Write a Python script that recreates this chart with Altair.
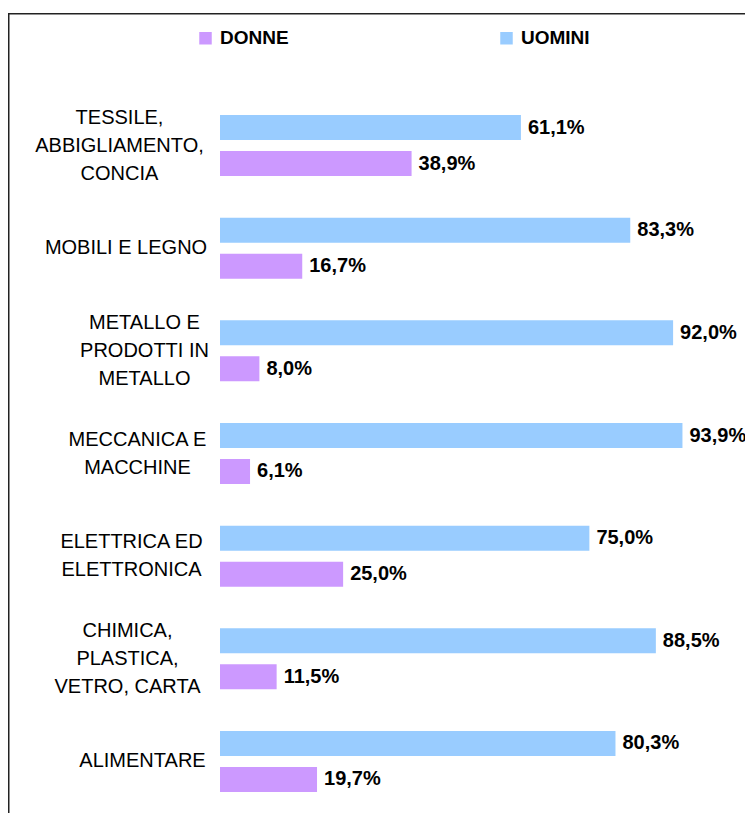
import altair as alt
import pandas as pd

categories = [
    "TESSILE,\nABBIGLIAMENTO,\nCONCIA",
    "MOBILI E LEGNO",
    "METALLO E\nPRODOTTI IN\nMETALLO",
    "MECCANICA E\nMACCHINE",
    "ELETTRICA ED\nELETTRONICA",
    "CHIMICA,\nPLASTICA,\nVETRO, CARTA",
    "ALIMENTARE",
]
uomini = [61.1, 83.3, 92.0, 93.9, 75.0, 88.5, 80.3]
donne = [38.9, 16.7, 8.0, 6.1, 25.0, 11.5, 19.7]
series = ["DONNE", "UOMINI"]
colors = ["#CC99FF", "#99CCFF"]

rows = []
for c, u, d in zip(categories, uomini, donne):
    rows.append({"cat": c, "sesso": "UOMINI", "val": u})
    rows.append({"cat": c, "sesso": "DONNE", "val": d})
df = pd.DataFrame(rows)

FONT = "Liberation Sans, Arial, sans-serif"
W, H = 737, 800
AXIS_X = 200
LINE_H = 28

# horizontal centre (page px) of each label block
label_centres = [("TESSILE", 119), ("MOBILI", 125.5), ("METALLO", 144),
                 ("MECCANICA", 137), ("ELETTRICA", 131), ("CHIMICA", 127),
                 ("ALIMENTARE", 142)]
pad_conds = [{"test": f"indexof(datum.value, '{k}') == 0", "value": AXIS_X - (c - 8)}
             for k, c in label_centres]
off_conds = [
    {"test": "length(split(datum.value, '\\n')) == 3", "value": -LINE_H},
    {"test": "length(split(datum.value, '\\n')) == 2", "value": -LINE_H / 2},
]

y_enc = alt.Y(
    "cat:N", sort=categories,
    scale=alt.Scale(domain=categories, range=[81.17, 799.83], paddingInner=0, paddingOuter=0),
    axis=alt.Axis(title=None, domain=False, ticks=False, tickSize=0, grid=False,
                  offset=-AXIS_X, labelAlign="center", labelBaseline="middle",
                  labelFont=FONT, labelFontSize=20, labelColor="black",
                  labelLineHeight=LINE_H, labelLimit=0,
                  labelExpr="split(datum.label, '\\n')",
                  labelPadding={"condition": pad_conds, "value": 80},
                  labelOffset={"condition": off_conds, "value": 0}),
)
yoff = alt.YOffset("sesso:N", sort=["UOMINI", "DONNE"],
                   scale=alt.Scale(domain=["UOMINI", "DONNE"], paddingInner=0.30556, paddingOuter=0.5787))
x_enc = alt.X("val:Q", scale=alt.Scale(domain=[0, 100], range=[212, 704.5]), axis=None)

base = alt.Chart(df)

bars = base.mark_bar().encode(
    x=x_enc, y=y_enc, yOffset=yoff,
    color=alt.Color("sesso:N", scale=alt.Scale(domain=series, range=colors),
                    legend=alt.Legend(title=None, orient="none", legendX=188, legendY=15.5,
                                      direction="horizontal", symbolType="square",
                                      symbolSize=156, symbolStrokeWidth=0, symbolOpacity=1,
                                      labelFont=FONT, labelFontSize=19, labelFontWeight="bold",
                                      labelColor="black", labelOffset=5, columnPadding=208,
                                      padding=0)),
)

texts = base.transform_calculate(
    lbl="replace(format(datum.val, '.1f'), '.', ',') + '%'"
).mark_text(align="left", baseline="middle", dx=7, font=FONT, fontSize=20,
            fontWeight="bold", color="black").encode(
    x=x_enc,
    y=y_enc,
    yOffset=yoff,
    text="lbl:N",
)

border_df = pd.DataFrame({"a": [0]})
left_border = alt.Chart(border_df).mark_rule(color="#222222", strokeWidth=1.5).encode(
    x=alt.value(0.75), y=alt.value(0), y2=alt.value(H + 20))
top_border = alt.Chart(border_df).mark_rule(color="#222222", strokeWidth=1.5).encode(
    x=alt.value(0), x2=alt.value(W + 20), y=alt.value(0.75))

chart = alt.layer(bars, texts, left_border, top_border).properties(
    width=W, height=H,
    padding={"top": 5, "left": 0, "right": 0, "bottom": 0},
    autosize=alt.AutoSizeParams(type="none"),
    background="white",
).configure_view(stroke=None)

chart.save("out.html", embed_options={"renderer": "svg", "actions": False})
